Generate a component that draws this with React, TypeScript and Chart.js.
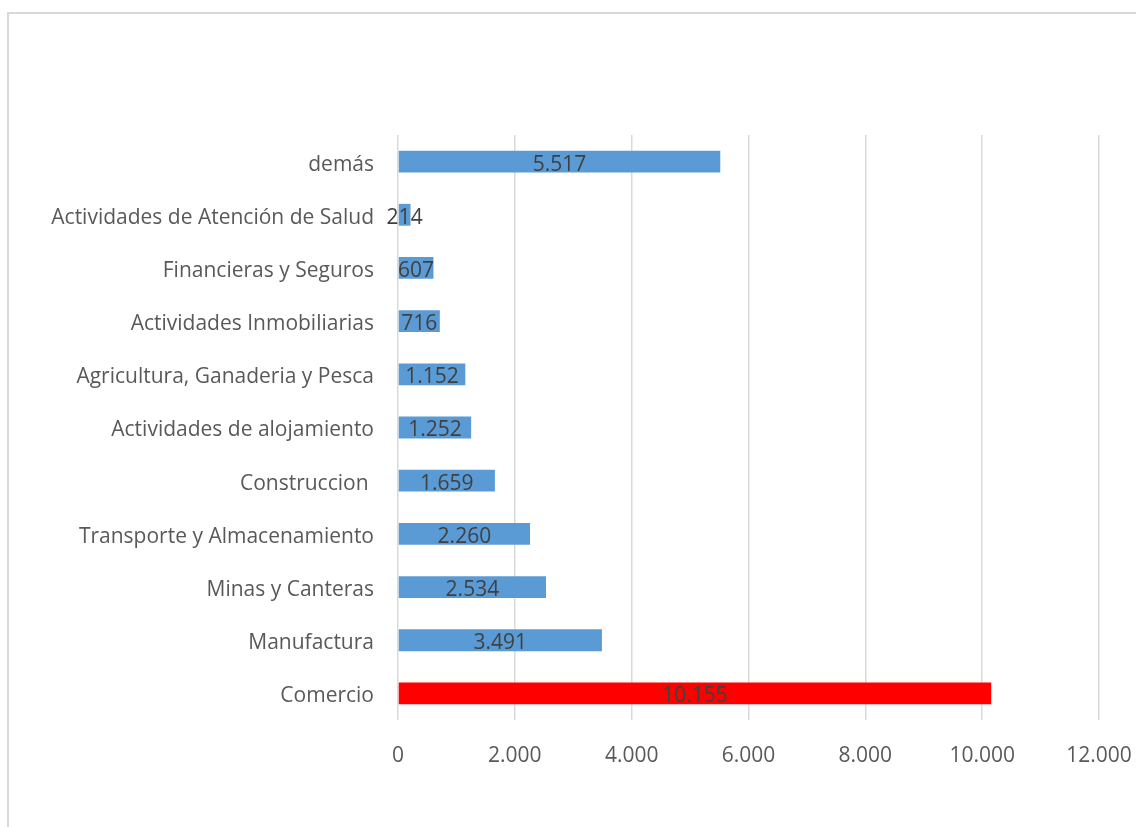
import React, { useEffect, useRef } from "react";
import { Chart, registerables } from "chart.js";

Chart.register(...registerables);

const categories = [
  "demás",
  "Actividades de Atención de Salud",
  "Financieras y Seguros",
  "Actividades Inmobiliarias",
  "Agricultura, Ganaderia y Pesca",
  "Actividades de alojamiento",
  "Construccion ",
  "Transporte y Almacenamiento",
  "Minas y Canteras",
  "Manufactura",
  "Comercio",
];
const values = [5517, 214, 607, 716, 1152, 1252, 1659, 2260, 2534, 3491, 10155];
const barColors = [
  "#5B9BD5", "#5B9BD5", "#5B9BD5", "#5B9BD5", "#5B9BD5", "#5B9BD5",
  "#5B9BD5", "#5B9BD5", "#5B9BD5", "#5B9BD5", "#FF0000",
];
const xMin = 0;
const xMax = 12000;
const xStep = 2000;

const FONT = "'Open Sans', Lato, sans-serif";
const FSIZE = 21;

function fmt(v: number): string {
  return Math.round(v).toString().replace(/\B(?=(\d{3})+(?!\d))/g, ".");
}

const labelPlugin = {
  id: "centerLabels",
  afterDatasetsDraw(chart: any) {
    const ctx = chart.ctx;
    const meta = chart.getDatasetMeta(0);
    ctx.save();
    ctx.font = `${FSIZE}px ${FONT}`;
    ctx.fillStyle = "#404040";
    ctx.textAlign = "center";
    ctx.textBaseline = "middle";
    meta.data.forEach((bar: any, i: number) => {
      const cx = (bar.x + bar.base) / 2;
      ctx.fillText(fmt(values[i]), cx, bar.y + 3);
    });
    ctx.restore();
  },
};

export default function App() {
  const ref = useRef<HTMLCanvasElement>(null);
  useEffect(() => {
    if (!ref.current) return;
    const chart = new Chart(ref.current, {
      type: "bar",
      data: {
        labels: categories,
        datasets: [
          {
            data: values,
            backgroundColor: barColors,
            barPercentage: 0.41,
            categoryPercentage: 1,
          },
        ],
      },
      options: {
        indexAxis: "y",
        animation: false,
        responsive: false,
        maintainAspectRatio: false,
        layout: { padding: { top: 135, right: 37, bottom: 0, left: 0 } },
        plugins: { legend: { display: false }, tooltip: { enabled: false } },
        scales: {
          x: {
            min: xMin,
            max: xMax,
            ticks: {
              stepSize: xStep,
              callback: (v: any) => fmt(Number(v)),
              color: "#595959",
              font: { family: FONT, size: FSIZE },
              padding: 23,
            },
            grid: { color: "#d9d9d9", lineWidth: 1.5, drawTicks: false },
            border: { display: false },
            afterFit: (s: any) => {
              s.height = 107;
              s.paddingRight = 0;
              s.paddingLeft = 0;
            },
          },
          y: {
            ticks: {
              color: "#595959",
              font: { family: FONT, size: FSIZE },
              padding: 24,
              labelOffset: 3,
              autoSkip: false,
            },
            grid: { display: false, drawTicks: false },
            border: { display: false },
            afterFit: (s: any) => {
              s.width = 398;
              s.paddingTop = 0;
              s.paddingBottom = 0;
            },
          },
        },
      },
      plugins: [labelPlugin],
    });
    return () => chart.destroy();
  }, []);
  return (
    <div style={{ position: "fixed", left: 0, top: 0, width: 1136, height: 827, background: "#fff", overflow: "hidden" }}>
      <div
        style={{
          position: "absolute",
          left: 7,
          top: 12,
          width: 1200,
          height: 900,
          border: "2px solid #d9d9d9",
          boxSizing: "border-box",
        }}
      />
      <canvas ref={ref} width={1136} height={827} style={{ position: "absolute", left: 0, top: 0 }} />
    </div>
  );
}
